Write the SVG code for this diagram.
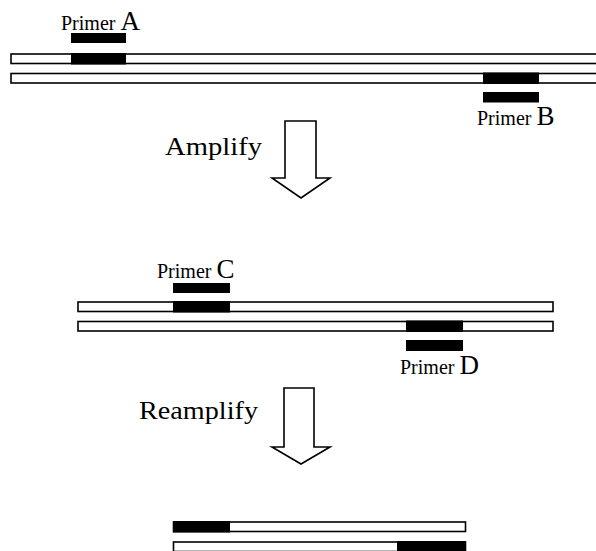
<svg xmlns="http://www.w3.org/2000/svg" width="596" height="551" viewBox="0 0 596 551">
<style>
.strand{fill:#fff;stroke:#000;stroke-width:1.6}
.blk{fill:#000}
.lbl{font-family:"Liberation Serif","Times New Roman",serif;fill:#000}
.sm{font-size:20px}
.lg{font-size:27px}
.step{font-family:"Liberation Serif","Times New Roman",serif;font-size:26px;fill:#000}
.arrow{fill:#fff;stroke:#000;stroke-width:1.6;stroke-linejoin:miter}
</style>
<rect width="596" height="551" fill="#fff"/>
<g id="stage1">
  <g id="strand1a"><rect class="strand" x="11" y="54" width="590" height="9.5"/><rect class="blk" x="71" y="53" width="55" height="11.5"/></g>
  <g id="strand1b"><rect class="strand" x="11" y="73.5" width="590" height="9.5"/><rect class="blk" x="483" y="72.5" width="56" height="11.5"/></g>
  <g id="primerA"><rect class="blk" x="71" y="33" width="55" height="10"/><text class="lbl" x="61" y="30"><tspan class="sm">Primer </tspan><tspan class="lg">A</tspan></text></g>
  <g id="primerB"><rect class="blk" x="483" y="92" width="56" height="10.5"/><text class="lbl" x="477" y="125"><tspan class="sm">Primer </tspan><tspan class="lg">B</tspan></text></g>
</g>
<g id="stage2">
  <g id="strand2a"><rect class="strand" x="78" y="302" width="475" height="9.5"/><rect class="blk" x="173" y="301" width="57" height="11.5"/></g>
  <g id="strand2b"><rect class="strand" x="78" y="321.5" width="475" height="9.5"/><rect class="blk" x="406" y="320.5" width="57" height="11.5"/></g>
  <g id="primerC"><rect class="blk" x="173" y="283" width="57" height="10"/><text class="lbl" x="157" y="278"><tspan class="sm">Primer </tspan><tspan class="lg">C</tspan></text></g>
  <g id="primerD"><rect class="blk" x="406" y="340" width="57" height="11"/><text class="lbl" x="400" y="374"><tspan class="sm">Primer </tspan><tspan class="lg">D</tspan></text></g>
</g>
<g id="stage3">
  <g id="strand3a"><rect class="strand" x="173.5" y="522" width="292" height="9.5"/><rect class="blk" x="173" y="521" width="57" height="11.5"/></g>
  <g id="strand3b"><rect class="strand" x="173.5" y="542" width="292" height="9.5"/><rect class="blk" x="397" y="541" width="69" height="11.5"/></g>
</g>
<g id="connectors">
  <g id="amplify"><polygon class="arrow" points="285,121 316,121 316,178 330,178 301,198 272,178 285,178"/><text class="step" x="165" y="155" textLength="97" lengthAdjust="spacingAndGlyphs">Amplify</text></g>
  <g id="reamplify"><polygon class="arrow" points="284,388 314,388 314,447 330,447 301,464 272,447 284,447"/><text class="step" x="139" y="419" textLength="119" lengthAdjust="spacingAndGlyphs">Reamplify</text></g>
</g>
</svg>
